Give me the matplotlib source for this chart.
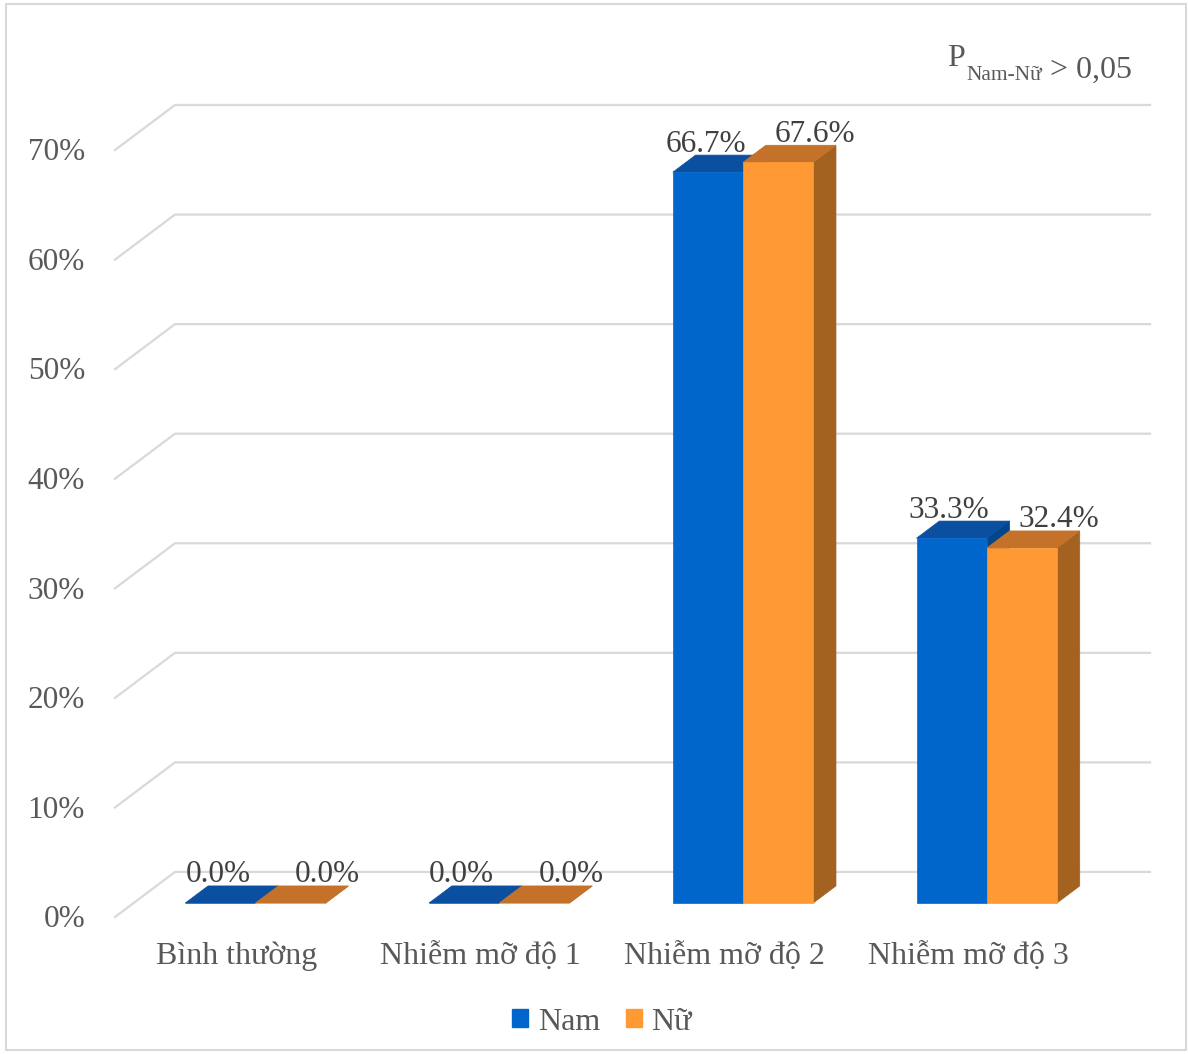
import matplotlib.pyplot as plt
from matplotlib.patches import Polygon, Patch, Rectangle

plt.rcParams['font.family'] = ['Liberation Serif', 'DejaVu Serif']

categories = ['Bình thường', 'Nhiễm mỡ độ 1', 'Nhiễm mỡ độ 2', 'Nhiễm mỡ độ 3']
nam = [0.0, 0.0, 66.7, 33.3]
nu = [0.0, 0.0, 67.6, 32.4]
yticks = [0, 10, 20, 30, 40, 50, 60, 70]

# oblique depth: one unit of depth shifts right by DX categories and up by DY percent
DX, DY = 0.246, 4.11
BAR_W = 0.288
Z0, Z1 = 0.31, 0.69
GRID = '#D9D9D9'
TXT = '#595959'
LBL = '#404040'

series = [
    ('Nam', nam, '#0066CC', '#0A4FA0', '#03468C', -BAR_W, -0.01),
    ('Nữ', nu, '#FF9933', '#C4722A', '#A3621F', 0.0, 0.15),
]


def proj(x, y, z):
    return (x + DX * z, y + DY * z)


def bar3d(ax, xl, h, face, top, side):
    xr = xl + BAR_W
    sides = [
        ([(xr, 0, Z0), (xr, 0, Z1), (xr, h, Z1), (xr, h, Z0)], side),
        ([(xl, h, Z0), (xr, h, Z0), (xr, h, Z1), (xl, h, Z1)], top),
        ([(xl, 0, Z0), (xr, 0, Z0), (xr, h, Z0), (xl, h, Z0)], face),
    ]
    for pts, c in sides:
        ax.add_patch(Polygon([proj(*p) for p in pts], closed=True,
                             facecolor=c, edgecolor=c, lw=0.5, zorder=3))


fig = plt.figure(figsize=(11.88, 10.54), dpi=100)
ax = fig.add_axes([115 / 1188, 1 - 917 / 1054, 1035 / 1188, 812 / 1054])
ax.set_xlim(-0.5, 3.5 + DX)
ax.set_ylim(0, 70 + DY)
ax.axis('off')

# side wall and back wall grid
for v in yticks:
    a = proj(-0.5, v, 0)
    b = proj(-0.5, v, 1)
    c = proj(3.5, v, 1)
    ax.plot([a[0], b[0], c[0]], [a[1], b[1], c[1]], color=GRID, lw=1.6,
            zorder=1, clip_on=False, solid_joinstyle='miter')
    ax.text(-0.5 - 0.123, v - 0.25, f'{v}%', ha='right', va='center',
            fontsize=22.5, color=TXT)

for i, cat in enumerate(categories):
    for name, vals, face, top, side, off, loff in series:
        h = vals[i]
        bar3d(ax, i + off, h, face, top, side)
        lx, _ = proj(i + off + BAR_W / 2 + loff, h, Z0)
        _, ly = proj(0, h, Z1)
        ax.text(lx, ly + 1.0, f'{h:.1f}%', ha='center', va='center',
                fontsize=22.5, color=LBL, zorder=5)
    ax.text(i, -3.6, cat, ha='center', va='center', fontsize=23,
            color=TXT, clip_on=False)

handles = [Patch(facecolor=s[2], edgecolor=s[2], label=s[0]) for s in series]
fig.legend(handles=handles, loc='center', bbox_to_anchor=(602 / 1188, 1 - 1022 / 1054),
           ncol=2, frameon=False, fontsize=23, labelcolor=TXT,
           handlelength=0.5, handleheight=0.5, handletextpad=0.3,
           columnspacing=0.8)

# p-value note
p = fig.text(947 / 1188, 1 - 66 / 1054, 'P', fontsize=23, color=TXT,
             ha='left', va='baseline')
s = ax.annotate('Nam-Nữ', xy=(1, 0), xycoords=p, xytext=(1, -5),
                textcoords='offset points', fontsize=15.5, color=TXT,
                ha='left', va='baseline', annotation_clip=False)
ax.annotate(' > 0,05', xy=(1, 0), xycoords=s, xytext=(0, 5),
            textcoords='offset points', fontsize=23, color=TXT,
            ha='left', va='baseline', annotation_clip=False)

fig.add_artist(Rectangle((6 / 1188, 4 / 1054), 1180 / 1188, 1046 / 1054,
                         transform=fig.transFigure, fill=False,
                         edgecolor=GRID, lw=1.5))

fig.savefig('out.png', dpi=100)
